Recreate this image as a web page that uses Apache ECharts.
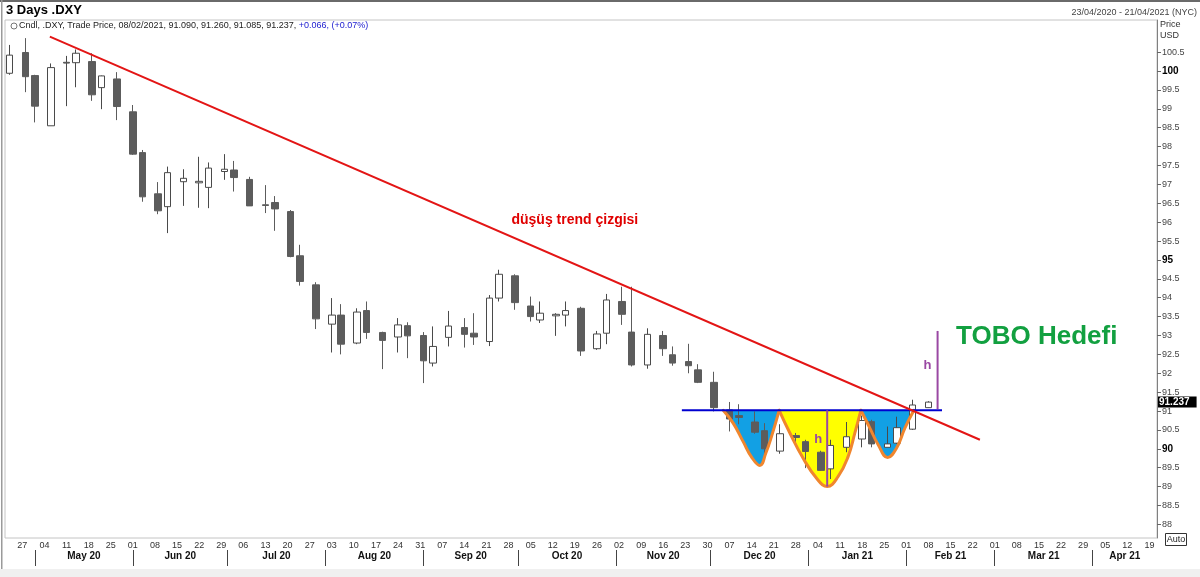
<!DOCTYPE html>
<html><head><meta charset="utf-8">
<script src="https://cdn.jsdelivr.net/npm/echarts@6/dist/echarts.min.js"></script>
<style>html,body{margin:0;padding:0;background:#fff;}#c{width:1200px;height:577px;}</style>
</head><body><div id="c"></div>
<script>
// 3-day candles (bar start dates)
const dates = ['2020-04-23','2020-04-28','2020-05-01','2020-05-06','2020-05-11','2020-05-14','2020-05-19','2020-05-22','2020-05-27','2020-06-01','2020-06-04','2020-06-09','2020-06-12','2020-06-17','2020-06-22','2020-06-25','2020-06-30','2020-07-03','2020-07-08','2020-07-13','2020-07-16','2020-07-21','2020-07-24','2020-07-29','2020-08-03','2020-08-06','2020-08-11','2020-08-14','2020-08-19','2020-08-24','2020-08-27','2020-09-01','2020-09-04','2020-09-09','2020-09-14','2020-09-17','2020-09-22','2020-09-25','2020-09-30','2020-10-05','2020-10-08','2020-10-13','2020-10-16','2020-10-21','2020-10-26','2020-10-29','2020-11-03','2020-11-06','2020-11-11','2020-11-16','2020-11-19','2020-11-24','2020-11-27','2020-12-02','2020-12-07','2020-12-10','2020-12-15','2020-12-18','2020-12-23','2020-12-28','2020-12-31','2021-01-05','2021-01-08','2021-01-13','2021-01-18','2021-01-21','2021-01-26','2021-01-29','2021-02-03','2021-02-08'];
const opens  = [99.94,100.49,99.88,98.55,100.21,100.22,100.25,99.56,99.79,98.92,97.84,96.75,96.41,97.07,97.04,96.92,97.34,97.38,97.13,96.46,96.52,96.28,95.11,94.34,93.30,93.54,92.80,93.66,93.08,92.96,93.26,93.00,92.27,92.95,93.21,93.06,92.84,93.99,94.58,93.78,93.41,93.52,93.54,93.72,92.65,93.06,93.90,93.09,92.22,93.00,92.49,92.31,92.09,91.76,91.03,90.88,90.71,90.48,89.94,90.35,90.19,89.91,89.47,90.04,90.26,90.72,90.04,90.15,90.52,91.090];
const closes = [100.42,99.85,99.07,100.09,100.23,100.47,99.37,99.87,99.06,97.80,96.67,96.30,97.31,97.16,97.08,97.43,97.40,97.18,96.43,96.44,96.35,95.09,94.43,93.44,93.54,92.77,93.62,93.08,92.87,93.28,92.99,92.33,92.71,93.25,93.03,92.96,93.99,94.62,93.87,93.50,93.59,93.56,93.66,92.59,93.04,93.94,93.56,92.22,93.03,92.65,92.27,92.20,91.76,91.09,90.79,90.83,90.44,90.00,90.40,90.30,89.93,89.43,90.09,90.32,90.75,90.13,90.13,90.56,91.16,91.237];
const lows   = [99.90,99.44,98.64,98.55,99.07,99.57,99.21,98.99,98.70,97.78,96.54,96.21,95.71,96.43,96.38,96.37,97.12,96.81,96.43,96.24,95.77,95.07,94.32,93.17,92.55,92.50,92.77,92.91,92.11,92.55,92.40,91.74,92.18,92.71,92.68,92.75,92.72,93.90,93.68,93.37,93.33,92.99,93.24,92.46,92.62,92.77,93.28,92.18,92.12,92.46,92.20,92.00,91.74,90.99,90.46,90.65,90.40,89.69,89.87,90.10,89.49,89.42,89.20,89.91,90.04,90.04,90.04,90.13,90.50,91.085];
const highs  = [100.69,100.87,99.90,100.20,100.40,100.57,100.47,99.88,99.97,99.10,97.91,97.06,97.47,97.40,97.73,97.58,97.80,97.62,97.20,96.98,96.69,96.32,95.40,94.41,93.99,93.83,93.72,93.90,93.10,93.46,93.35,93.09,93.24,93.65,93.46,93.59,94.07,94.74,94.62,94.03,93.90,93.59,93.90,93.76,93.12,94.10,94.29,94.29,93.19,93.12,92.71,92.78,92.24,92.04,91.24,91.18,90.99,90.68,90.65,90.42,90.24,89.95,90.24,90.71,90.88,90.77,90.59,90.85,91.30,91.260];

// axis labels
const dayTickLabels = ['27','04','11','18','25','01','08','15','22','29','06','13','20','27','03','10','17','24','31','07','14','21','28','05','12','19','26','02','09','16','23','30','07','14','21','28','04','11','18','25','01','08','15','22','01','08','15','22','29','05','12','19'];
const monthLabels = ['May 20','Jun 20','Jul 20','Aug 20','Sep 20','Oct 20','Nov 20','Dec 20','Jan 21','Feb 21','Mar 21','Apr 21'];
const monthStarts = ['2020-05-01','2020-06-01','2020-07-01','2020-08-01','2020-09-01','2020-10-01','2020-11-01','2020-12-01','2021-01-01','2021-02-01','2021-03-01','2021-04-01','2021-05-01'];
const yTicks = [88,88.5,89,89.5,90,90.5,91,91.5,92,92.5,93,93.5,94,94.5,95,95.5,96,96.5,97,97.5,98,98.5,99,99.5,100,100.5];

// annotations: [day offset from 2020-04-27, price]
const trendLine = [[8.7,100.91],[303.3,90.24]];
const neckLine = [[208.9,91.02],[291.3,91.02]];
const leftShoulder = [[221.98,91.02],[225.15,90.68],[228.32,90.19],[230.98,89.78],[233.61,89.56],[235.51,89.89],[237.31,90.33],[239.72,91.02]];
const headShape = [[239.72,91.02],[243.11,90.42],[247.32,89.75],[251.57,89.22],[254.93,89.00],[258.41,89.27],[261.58,89.80],[263.70,90.42],[265.6,91.02]];
const rightShoulder = [[265.6,91.02],[268.45,90.55],[271.08,90.11],[274.06,89.77],[276.91,90.02],[279.54,90.55],[282.39,91.02]];
const headHeight = [[254.93,91.02],[254.93,89.00]];
const targetHeight = [[289.9,91.05],[289.9,93.12]];
const lastClose = 91.237;

const ORIGIN = Date.UTC(2020,3,27);
const dayOf = s => (Date.parse(s + 'T00:00:00Z') - ORIGIN) / 86400000;
const X_MIN = -5.5, X_MAX = 359.4;

const candleData = dates.map((d,i) => [dayOf(d), opens[i], closes[i], lows[i], highs[i]]);
const dayTickValues = dayTickLabels.map((_, i) => i * 7);
const monthStartValues = monthStarts.map(dayOf);
const monthMidValues = monthLabels.map((_, i) => (monthStartValues[i] + Math.min(monthStartValues[i+1], X_MAX)) / 2);

const FONT = 'Liberation Sans, Arial, sans-serif';
const chart = echarts.init(document.getElementById('c'));

function fillSeries(data, color) {
  return {type:'line', data, smooth:0.45, symbol:'none', silent:true, z:1,
    lineStyle:{width:0, opacity:0}, areaStyle:{color, opacity:1, origin:91.02}};
}
function outlineSeries(data) {
  return {type:'line', data, smooth:0.45, symbol:'none', silent:true, z:4,
    lineStyle:{color:'#f0862e', width:3, cap:'round', join:'round'}};
}
function straight(data, color, width, z) {
  return {type:'line', data, symbol:'none', silent:true, z, lineStyle:{color, width}};
}
function note(value, text, color, size) {
  return {value, label:{show:true, position:'inside', formatter:text, color, opacity:1, fontWeight:'bold', fontSize:size, fontFamily:FONT}};
}

chart.setOption({
  animation:false,
  backgroundColor:'#ffffff',
  textStyle:{fontFamily:FONT},
  grid:{left:5, right:43, top:20, bottom:39, show:true, borderColor:'#c4c4c4', borderWidth:1, backgroundColor:'#fff'},
  xAxis:[{
    type:'value', min:X_MIN, max:X_MAX, position:'bottom',
    axisLine:{show:false, onZero:false}, axisTick:{show:false}, splitLine:{show:false},
    axisLabel:{customValues:dayTickValues, formatter:v => dayTickLabels[Math.round(v/7)], fontSize:9, color:'#333', margin:3, fontFamily:FONT}
  },{
    type:'value', min:X_MIN, max:X_MAX, position:'bottom', offset:12,
    axisLine:{show:false, onZero:false}, splitLine:{show:false},
    axisTick:{show:true, customValues:monthStartValues, length:16, lineStyle:{color:'#444', width:1}},
    axisLabel:{customValues:monthMidValues, formatter:v => monthLabels[monthMidValues.findIndex(m => Math.abs(m-v) < 0.01)], fontSize:10, fontWeight:'bold', color:'#111', margin:1, fontFamily:FONT}
  }],
  yAxis:{
    type:'value', position:'right', min:87.64, max:101.35, scale:true,
    splitLine:{show:false},
    axisLine:{show:true, onZero:false, lineStyle:{color:'#808080'}},
    axisTick:{show:true, customValues:yTicks, length:4, lineStyle:{color:'#666'}},
    axisLabel:{customValues:yTicks, margin:5, fontSize:9, color:'#444', fontFamily:FONT,
      formatter:v => (Math.abs(v % 5) < 1e-9) ? '{b|' + v + '}' : String(v),
      rich:{b:{fontSize:10, fontWeight:'bold', color:'#000', fontFamily:FONT}}}
  },
  series:[
    fillSeries(leftShoulder, '#12a0e4'),
    fillSeries(headShape, '#ffff00'),
    fillSeries(rightShoulder, '#12a0e4'),
    {
      type:'candlestick', data:candleData, encode:{x:0, y:[1,2,3,4]}, barWidth:7, z:2, silent:true,
      itemStyle:{color:'#ffffff', color0:'#5c5c5c', borderColor:'#4a4a4a', borderColor0:'#5c5c5c', borderWidth:1},
      markLine:{symbol:'none', silent:true, data:[{yAxis:lastClose}], lineStyle:{color:'rgba(0,0,0,0)', width:1, type:'solid'},
        label:{show:true, position:'end', formatter:String(lastClose), backgroundColor:'#000', color:'#fff', fontWeight:'bold', fontSize:10, fontFamily:FONT, padding:[1,7,0,1], distance:1}}
    },
    outlineSeries(leftShoulder),
    outlineSeries(headShape),
    outlineSeries(rightShoulder),
    straight(neckLine, '#0000d0', 2, 5),
    straight(headHeight, '#9a48a3', 2, 5),
    straight(targetHeight, '#9a48a3', 2, 5),
    straight(trendLine, '#e31515', 2, 6),
    {
      type:'scatter', symbolSize:1, itemStyle:{color:'rgba(0,0,0,0)', opacity:1}, silent:true, z:7,
      data:[
        note([175.0,96.04], 'düşüş trend çizgisi', '#e00000', 14),
        note([321.3,92.96], 'TOBO Hedefi', '#12a040', 26),
        note([252.1,90.24], 'h', '#9a48a3', 13),
        note([286.7,92.20], 'h', '#9a48a3', 13)
      ]
    }
  ],
  graphic:[
    {type:'rect', shape:{x:0,y:0,width:1200,height:2}, style:{fill:'#6a6a6a'}, silent:true},
    {type:'rect', shape:{x:1,y:0,width:1.5,height:570}, style:{fill:'#9a9a9a'}, silent:true},
    {type:'rect', shape:{x:0,y:569,width:1200,height:8}, style:{fill:'#f0f0f0'}, silent:true},
    {type:'text', x:6, y:10, style:{text:'3 Days .DXY', font:'bold 13px ' + FONT, fill:'#000', textVerticalAlign:'middle'}, silent:true},
    {type:'text', x:1197, y:13, style:{text:'23/04/2020 - 21/04/2021 (NYC)', font:'9px ' + FONT, fill:'#444', textAlign:'right', textVerticalAlign:'middle'}, silent:true},
    {type:'circle', shape:{cx:14, cy:26, r:3}, style:{fill:'#fff', stroke:'#777', lineWidth:1}, silent:true},
    {type:'text', x:19, y:26, style:{rich:{a:{fill:'#222', font:'9px ' + FONT}, c:{fill:'#2020d0', font:'9px ' + FONT}}, text:'{a|Cndl, .DXY, Trade Price, 08/02/2021, 91.090, 91.260, 91.085, 91.237, }{c|+0.066, (+0.07%)}', textVerticalAlign:'middle'}, silent:true},
    {type:'text', x:1160, y:25, style:{text:'Price', font:'9px ' + FONT, fill:'#333', textVerticalAlign:'middle'}, silent:true},
    {type:'text', x:1160, y:36, style:{text:'USD', font:'9px ' + FONT, fill:'#333', textVerticalAlign:'middle'}, silent:true},
    {type:'rect', shape:{x:1165.5,y:533.5,width:21,height:12}, style:{fill:'#fff', stroke:'#333', lineWidth:1}, silent:true},
    {type:'text', x:1176, y:539.5, style:{text:'Auto', font:'9px ' + FONT, fill:'#222', textAlign:'center', textVerticalAlign:'middle'}, silent:true}
  ]
});
</script></body></html>
